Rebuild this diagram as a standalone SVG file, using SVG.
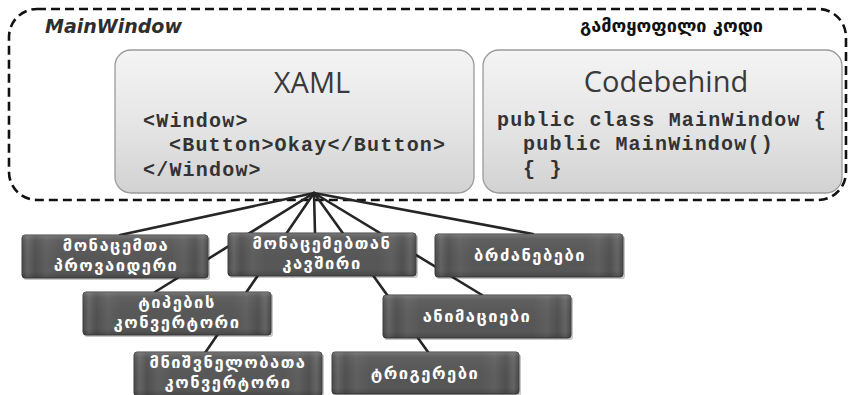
<svg xmlns="http://www.w3.org/2000/svg" width="850" height="395" viewBox="0 0 850 395">
<style>
.title{font-family:"Open Sans","Liberation Sans",sans-serif;font-size:29px;fill:#3a3a3a;text-anchor:middle}
.code{font-family:"Liberation Mono","DejaVu Sans Mono",monospace;font-size:20px;letter-spacing:1.2px;font-weight:bold;fill:#333333}
.lbl{font-family:"DejaVu Sans","Noto Sans",sans-serif;font-size:16.5px;letter-spacing:1.5px;font-weight:bold;fill:#ffffff;text-anchor:middle}
.conn line{stroke:#262626;stroke-width:2.6;stroke-linecap:round}
.panel{fill:url(#lightG);stroke:#9a9a9a;stroke-width:1.3}
.dark{fill:url(#darkH);stroke:#3e3e3e;stroke-width:1}
.hl{fill:url(#darkV)}
.sh{fill:#000;opacity:0.22}
</style>
<defs>
<linearGradient id="lightG" x1="0" y1="0" x2="0" y2="1">
<stop offset="0" stop-color="#f4f4f4"/>
<stop offset="0.5" stop-color="#e6e6e6"/>
<stop offset="1" stop-color="#d2d2d2"/>
</linearGradient>
<linearGradient id="darkH" x1="0" y1="0" x2="1" y2="0">
<stop offset="0" stop-color="#4a4a4a"/>
<stop offset="0.03" stop-color="#646464"/>
<stop offset="0.07" stop-color="#505050"/>
<stop offset="0.13" stop-color="#5f5f5f"/>
<stop offset="0.2" stop-color="#575757"/>
<stop offset="0.8" stop-color="#575757"/>
<stop offset="0.87" stop-color="#5f5f5f"/>
<stop offset="0.93" stop-color="#505050"/>
<stop offset="0.97" stop-color="#646464"/>
<stop offset="1" stop-color="#4a4a4a"/>
</linearGradient>
<linearGradient id="darkV" x1="0" y1="0" x2="0" y2="1">
<stop offset="0" stop-color="#ffffff" stop-opacity="0.18"/>
<stop offset="0.12" stop-color="#ffffff" stop-opacity="0.05"/>
<stop offset="0.85" stop-color="#000000" stop-opacity="0"/>
<stop offset="1" stop-color="#000000" stop-opacity="0.18"/>
</linearGradient>
</defs>
<rect width="850" height="395" fill="#ffffff"/>

<g id="mainwindow">
<rect x="9" y="9" width="837" height="191" rx="28" fill="none" stroke="#111" stroke-width="2.6" stroke-dasharray="9 5"/>
<text x="45" y="33" font-family="DejaVu Sans, sans-serif" font-size="19" font-weight="bold" font-style="italic" fill="#2e2e2e">MainWindow</text>
<text x="580" y="32" font-family="DejaVu Sans, sans-serif" font-size="18" font-weight="bold" fill="#111" textLength="183" lengthAdjust="spacingAndGlyphs">გამოყოფილი კოდი</text>
</g>

<g id="xaml">
<rect class="panel" x="115" y="50" width="359" height="143" rx="16"/>
<text class="title" x="312" y="93">XAML</text>
<text class="code" x="143" y="127">&lt;Window&gt;</text>
<text class="code" x="169" y="151">&lt;Button&gt;Okay&lt;/Button&gt;</text>
<text class="code" x="143" y="176">&lt;/Window&gt;</text>
</g>

<g id="codebehind">
<rect class="panel" x="483" y="50" width="359" height="143" rx="16"/>
<text class="title" x="666" y="92">Codebehind</text>
<text class="code" x="497" y="126">public class MainWindow {</text>
<text class="code" x="523" y="150">public MainWindow()</text>
<text class="code" x="523" y="175">{ }</text>
</g>

<g id="connectors" class="conn">
<line x1="314" y1="193" x2="120" y2="235"/>
<line x1="314" y1="193" x2="155" y2="292"/>
<line x1="314" y1="193" x2="205" y2="353"/>
<line x1="314" y1="193" x2="315" y2="233"/>
<line x1="314" y1="193" x2="428" y2="352"/>
<line x1="314" y1="193" x2="482" y2="295"/>
<line x1="314" y1="193" x2="533" y2="234"/>
</g>

<g id="n-provider">
<rect class="sh" x="23" y="237" width="187" height="43" rx="3"/>
<rect class="dark" x="22" y="235" width="186" height="43" rx="3"/>
<rect class="hl" x="22" y="235" width="186" height="43" rx="3"/>
<text class="lbl" x="116" y="251">მონაცემთა</text>
<text class="lbl" x="116" y="271">პროვაიდერი</text>
</g>

<g id="n-binding">
<rect class="sh" x="229" y="235" width="189" height="43" rx="3"/>
<rect class="dark" x="228" y="233" width="188" height="43" rx="3"/>
<rect class="hl" x="228" y="233" width="188" height="43" rx="3"/>
<text class="lbl" x="322" y="249">მონაცემებთან</text>
<text class="lbl" x="322" y="269">კავშირი</text>
</g>

<g id="n-commands">
<rect class="sh" x="436" y="236" width="189" height="43" rx="3"/>
<rect class="dark" x="435" y="234" width="188" height="43" rx="3"/>
<rect class="hl" x="435" y="234" width="188" height="43" rx="3"/>
<text class="lbl" x="530" y="261">ბრძანებები</text>
</g>

<g id="n-typeconv">
<rect class="sh" x="84" y="294" width="189" height="43" rx="3"/>
<rect class="dark" x="83" y="292" width="188" height="43" rx="3"/>
<rect class="hl" x="83" y="292" width="188" height="43" rx="3"/>
<text class="lbl" x="177" y="308">ტიპების</text>
<text class="lbl" x="177" y="328">კონვერტორი</text>
</g>

<g id="n-anim">
<rect class="sh" x="384" y="297" width="189" height="43" rx="3"/>
<rect class="dark" x="383" y="295" width="188" height="43" rx="3"/>
<rect class="hl" x="383" y="295" width="188" height="43" rx="3"/>
<text class="lbl" x="477" y="322">ანიმაციები</text>
</g>

<g id="n-valueconv">
<rect class="sh" x="135" y="354" width="189" height="43" rx="3"/>
<rect class="dark" x="134" y="352" width="188" height="44" rx="3"/>
<rect class="hl" x="134" y="352" width="188" height="44" rx="3"/>
<text class="lbl" x="228" y="368">მნიშვნელობათა</text>
<text class="lbl" x="228" y="388">კონვერტორი</text>
</g>

<g id="n-triggers">
<rect class="sh" x="333" y="354" width="188" height="42" rx="3"/>
<rect class="dark" x="332" y="352" width="187" height="42" rx="3"/>
<rect class="hl" x="332" y="352" width="187" height="42" rx="3"/>
<text class="lbl" x="425" y="379">ტრიგერები</text>
</g>
</svg>
